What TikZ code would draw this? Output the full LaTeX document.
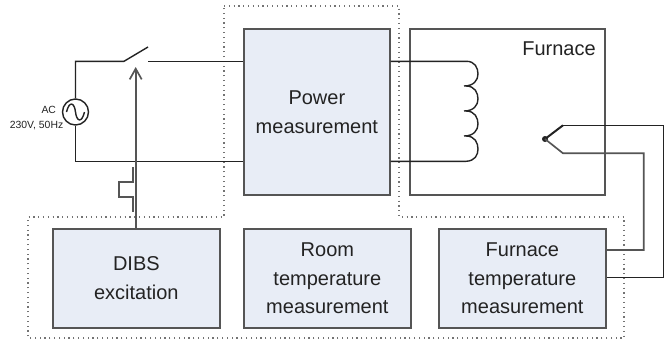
\documentclass[tikz,border=0pt]{standalone}
\usepackage{fontspec}
\setmainfont{Liberation Sans}
\usetikzlibrary{arrows.meta}
\definecolor{boxfill}{RGB}{232,237,246}
\definecolor{boxline}{RGB}{85,85,85}
\definecolor{ink}{RGB}{35,35,35}
\definecolor{dots}{RGB}{115,115,115}
\tikzset{
  block/.style={draw=boxline,line width=1.3pt,fill=boxfill,inner sep=0pt,anchor=north west,align=center,text=ink,font=\fontsize{15}{21.6}\selectfont},
  wire/.style={draw=ink,line width=1.05pt},
  graywire/.style={draw=boxline,line width=1.25pt},
  zone/.style={draw=dots,line width=0.9pt,dash pattern=on 0.9pt off 2.7pt},
}
\begin{document}
\begin{tikzpicture}[x=0.75pt,y=-0.75pt]
\useasboundingbox[fill=white] (0,0) rectangle (665,339);
% dotted zone
\draw[zone] (224,6) -- (399,6) -- (399,217) -- (624,217) -- (624,338) -- (28,338) -- (28,217) -- (224,217) -- cycle;
% blocks
\node[block,minimum width=146*0.75pt,minimum height=166*0.75pt] (power) at (243,28) {Power\\measurement};
\node[block,fill=white,minimum width=195*0.75pt,minimum height=166*0.75pt] (furnace) at (409,28) {};
\node[text=ink,font=\fontsize{15}{18}\selectfont] (flabel) at (559,49) {Furnace};
\node[block,minimum width=167*0.75pt,minimum height=99*0.75pt] (dibs) at (52,228) {DIBS\\excitation};
\node[block,minimum width=167*0.75pt,minimum height=99*0.75pt] (room) at (243,228) {Room\\temperature\\measurement};
\node[block,minimum width=167*0.75pt,minimum height=99*0.75pt] (ftemp) at (438,228) {Furnace\\temperature\\measurement};
% source
\node[draw=ink,line width=1.05pt,circle,minimum size=26*0.75pt,inner sep=0pt] (src) at (75.5,112) {};
\draw[ink,line width=1.05pt] (66.5,112) .. controls (69.5,100) and (74.5,103) .. (75.5,112) .. controls (76.5,121) and (81.5,124) .. (84.5,112);
\node[text=ink,inner sep=0pt,font=\fontsize{7.8}{11.5}\selectfont,align=right,anchor=east] (aclabel) at (63.5,118) {AC\phantom{\hspace{0.7em}}\\230V, 50Hz};
% switch and mains wiring
\coordinate (swa) at (124,61.3);
\coordinate (swb) at (148,47);
\coordinate (swc) at (148,61.3);
\draw[wire] (src.north) -- (75.5,61.3) -- (swa) -- (swb);
\draw[wire] (swc) -- (power.west |- swc);
\draw[wire] (src.south) -- (75.5,161.3) -- (power.west |- 0,161.3);
% DIBS arrow
\coordinate (tip) at (135.7,67);
\draw[graywire,-{Straight Barb[length=8pt,width=9pt]}] (tip |- dibs.north) -- (tip);
% pulse
\draw[graywire] (133,167) -- (133,182) -- (119,182) -- (119,197) -- (133,197) -- (133,212);
% coil
\coordinate (cs) at (466,61.3);
\coordinate (c1) at (466,86);
\coordinate (c2) at (466,111);
\coordinate (c3) at (466,136);
\coordinate (ce) at (466,161.3);
\draw[wire] (power.east |- cs) -- (cs)
  .. controls (475,61) and (478,68) .. (478,74) .. controls (478,80) and (474,86) .. (464,86)
  (c1) .. controls (475,86) and (478,93) .. (478,99) .. controls (478,105) and (474,111) .. (464,111)
  (c2) .. controls (475,111) and (478,118) .. (478,124) .. controls (478,130) and (474,136) .. (464,136)
  (c3) .. controls (475,136) and (478,143) .. (478,149) .. controls (478,155) and (475,161) .. (ce)
  -- (power.east |- ce);
% thermocouple
\node[fill=ink,circle,inner sep=0pt,minimum size=6*0.75pt] (tc) at (545,139) {};
\draw[draw=ink,line width=1.5pt] (tc.center) -- (563,125.3);
\draw[wire] (563,125.3) -- (663.3,125.3) -- (663.3,277.5) -- (ftemp.east |- 0,277.5);
\draw[graywire] (tc.center) -- (563,153.3) -- (643.7,153.3) -- (643.7,250) -- (ftemp.east |- 0,250);
\end{tikzpicture}
\end{document}
